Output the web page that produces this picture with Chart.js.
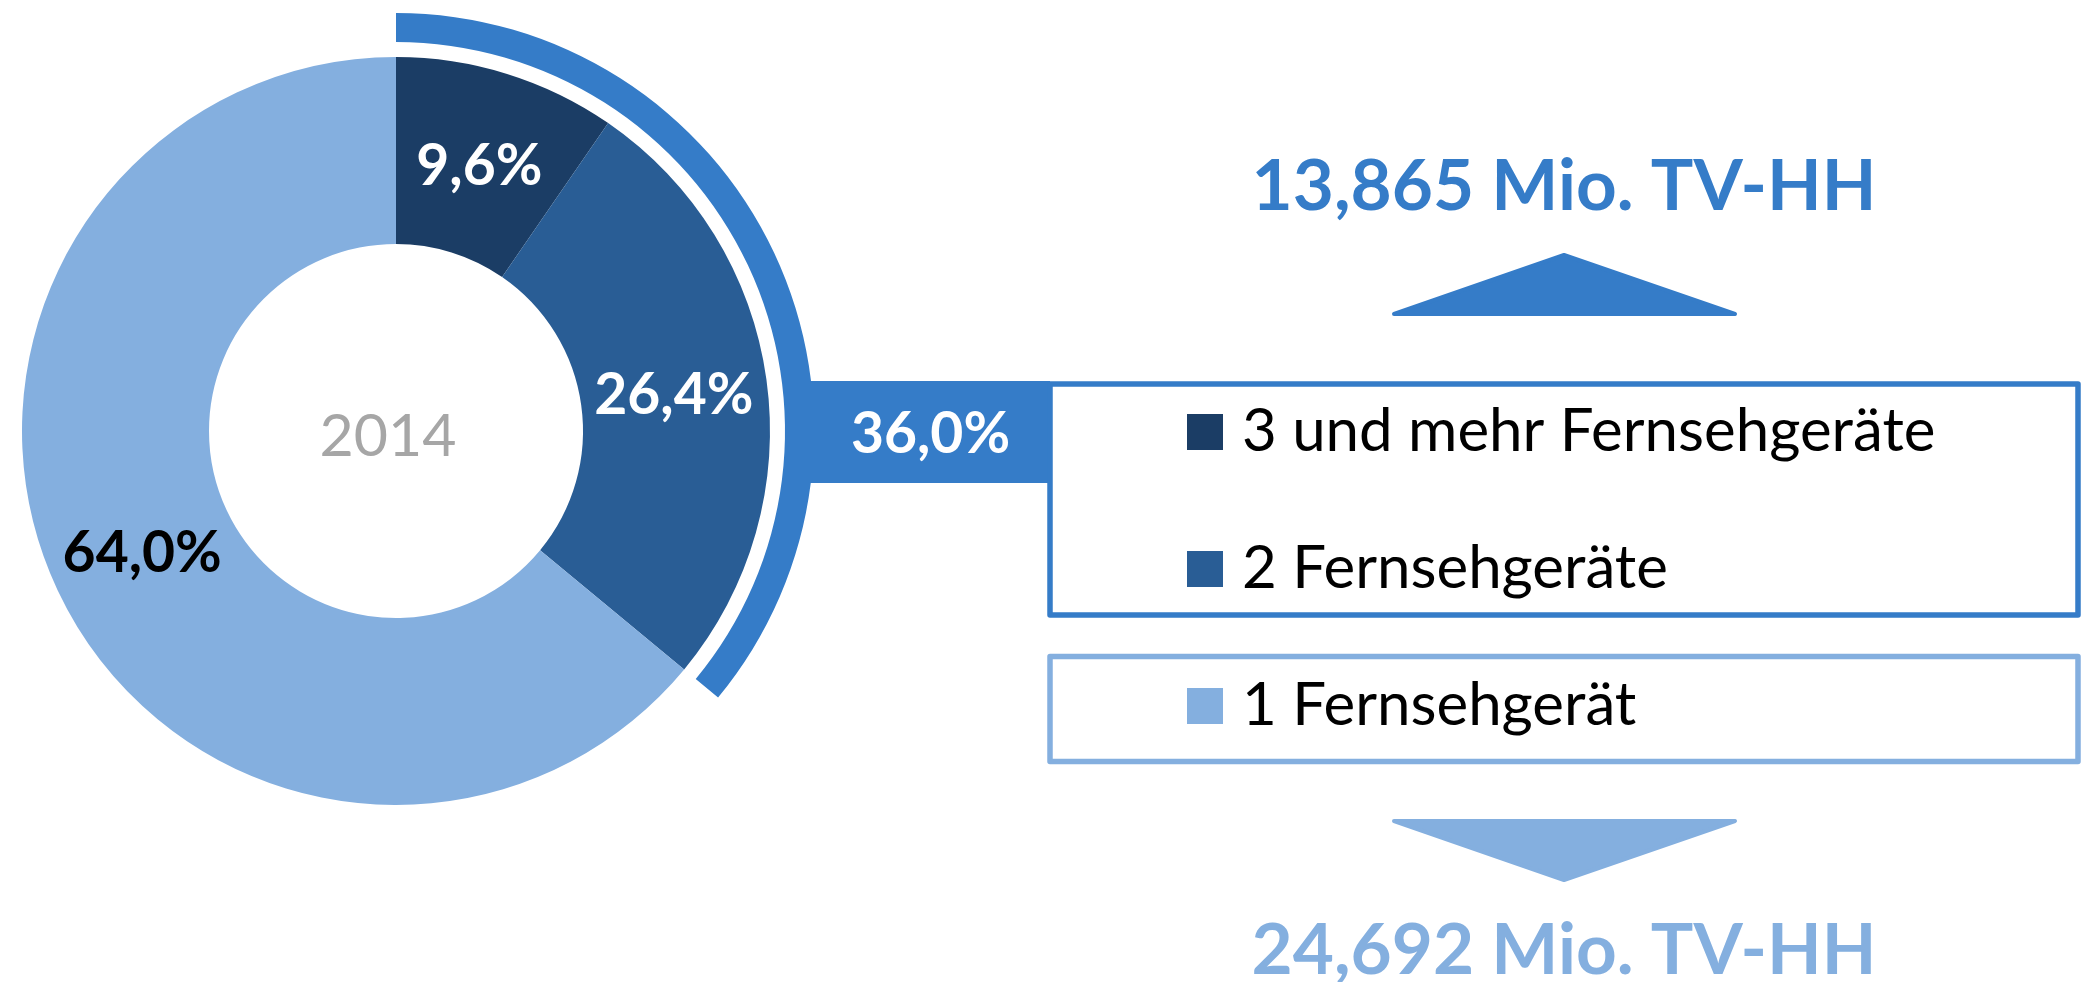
<!DOCTYPE html>
<html lang="de">
<head>
<meta charset="utf-8">
<title>TV-Haushalte nach Anzahl der Fernsehgeräte 2014</title>
<script src="https://cdn.jsdelivr.net/npm/chart.js@4.4.1/dist/chart.umd.min.js"></script>
<style>
    html, body { margin: 0; padding: 0; background: #fff; }
    #wrap { position: relative; width: 2090px; height: 982px; overflow: hidden; }
    canvas { display: block; }
</style>
</head>
<body>
<div id="wrap"><canvas id="chart" width="2090" height="982"></canvas></div>
<script>
// values (2014)
var year = '2014';
var categories = ['3 und mehr Fernsehgeräte', '2 Fernsehgeräte', '1 Fernsehgerät'];
var shares = [9.6, 26.4, 64.0];          // % of TV households
var groupShares = [36.0, 64.0];          // % with 2+ sets / with 1 set
var groupHouseholds = [13.865, 24.692];  // Mio. TV-HH

// colours
var segColors = ['#1b3d65', '#295d95', '#84afdf'];
var groupColors = ['#357cc8', '#84afdf'];
var labelColors = ['#fff', '#fff', '#000'];
var clear = 'rgba(0,0,0,0)';

function de(v, digits) {
    return v.toFixed(digits).replace('.', ',');
}

// text with its digit height centred on y
function centredText(ctx, txt, x, y) {
    var asc = ctx.measureText('0').actualBoundingBoxAscent;
    ctx.fillText(txt, x, y + asc / 2);
}

var overlay = {
    id: 'overlay',
    afterDatasetsDraw: function(chart) {
        var ctx = chart.ctx;
        var ring = chart.getDatasetMeta(0).data[0];
        var arcs = chart.getDatasetMeta(2).data;
        var cx = ring.x, cy = ring.y;
        var box = {left: 1050, right: 2078, top: 384, bottom: 615, top2: 656.5, bottom2: 761.5};

        ctx.save();

        // connector from the 36% ring to the legend box
        var barH = 102;
        ctx.fillStyle = groupColors[0];
        ctx.fillRect(cx + ring.innerRadius, cy + 1 - barH / 2, box.left - cx - ring.innerRadius, barH);

        // legend boxes
        ctx.lineWidth = 5.5;
        ctx.lineJoin = 'round';
        ctx.strokeStyle = groupColors[0];
        ctx.strokeRect(box.left, box.top, box.right - box.left, box.bottom - box.top);
        ctx.strokeStyle = groupColors[1];
        ctx.strokeRect(box.left, box.top2, box.right - box.left, box.bottom2 - box.top2);

        // legend entries
        var rowY = [432, 569, 706];
        ctx.font = '60px Lato';
        ctx.textAlign = 'left';
        ctx.textBaseline = 'alphabetic';
        categories.forEach(function(c, i) {
            ctx.fillStyle = segColors[i];
            ctx.fillRect(1187, rowY[i] - 18, 36, 36);
            ctx.fillStyle = '#000';
            ctx.fillText(c, 1242, rowY[i] + 19);
        });

        // percentage labels on the slices
        ctx.font = 'bold 57px Lato';
        ctx.textAlign = 'center';
        arcs.forEach(function(a, i) {
            var p = a.getCenterPoint();
            ctx.fillStyle = labelColors[i];
            centredText(ctx, de(shares[i], 1) + '%', p.x, p.y + 1);
        });

        // group share in the connector
        var edgeX = cx + Math.sqrt(ring.outerRadius * ring.outerRadius - 50 * 50);
        ctx.fillStyle = '#fff';
        centredText(ctx, de(groupShares[0], 1) + '%', (edgeX + box.left) / 2, cy + 1);

        // year in the hole
        ctx.font = '59px Lato';
        ctx.fillStyle = '#a6a6a6';
        centredText(ctx, year, cx - 8, cy + 4);

        // arrows
        var ax = 1564;
        ctx.lineWidth = 4;
        ctx.fillStyle = ctx.strokeStyle = groupColors[0];
        ctx.beginPath();
        ctx.moveTo(ax - 170, 314); ctx.lineTo(ax, 255); ctx.lineTo(ax + 171, 314);
        ctx.closePath(); ctx.fill(); ctx.stroke();
        ctx.fillStyle = ctx.strokeStyle = groupColors[1];
        ctx.beginPath();
        ctx.moveTo(ax - 170, 821); ctx.lineTo(ax, 880); ctx.lineTo(ax + 171, 821);
        ctx.closePath(); ctx.fill(); ctx.stroke();

        // household totals
        ctx.font = 'bold 71px Lato';
        ctx.textAlign = 'center';
        var tx = (box.left + box.right) / 2;
        ctx.fillStyle = groupColors[0];
        ctx.fillText(de(groupHouseholds[0], 3) + ' Mio. TV-HH', tx, 210);
        ctx.fillStyle = groupColors[1];
        ctx.fillText(de(groupHouseholds[1], 3) + ' Mio. TV-HH', tx, 974);

        ctx.restore();
    }
};

new Chart(document.getElementById('chart'), {
    type: 'doughnut',
    data: {
        labels: categories,
        datasets: [
            // outer ring: share of households with 2+ sets
            {data: groupShares, backgroundColor: [groupColors[0], clear], borderWidth: 0, weight: 29},
            // white gap between the rings
            {data: [100], backgroundColor: [clear], borderWidth: 0, weight: 15},
            {data: shares, backgroundColor: segColors, borderWidth: 0, weight: 187}
        ]
    },
    options: {
        responsive: false,
        animation: false,
        devicePixelRatio: 1,
        events: [],
        radius: 418,
        cutout: (187 / 418 * 100) + '%',
        layout: {padding: {left: 0, right: 1298, top: 0, bottom: 120}},
        plugins: {legend: {display: false}, tooltip: {enabled: false}}
    },
    plugins: [overlay]
});
</script>
</body>
</html>
